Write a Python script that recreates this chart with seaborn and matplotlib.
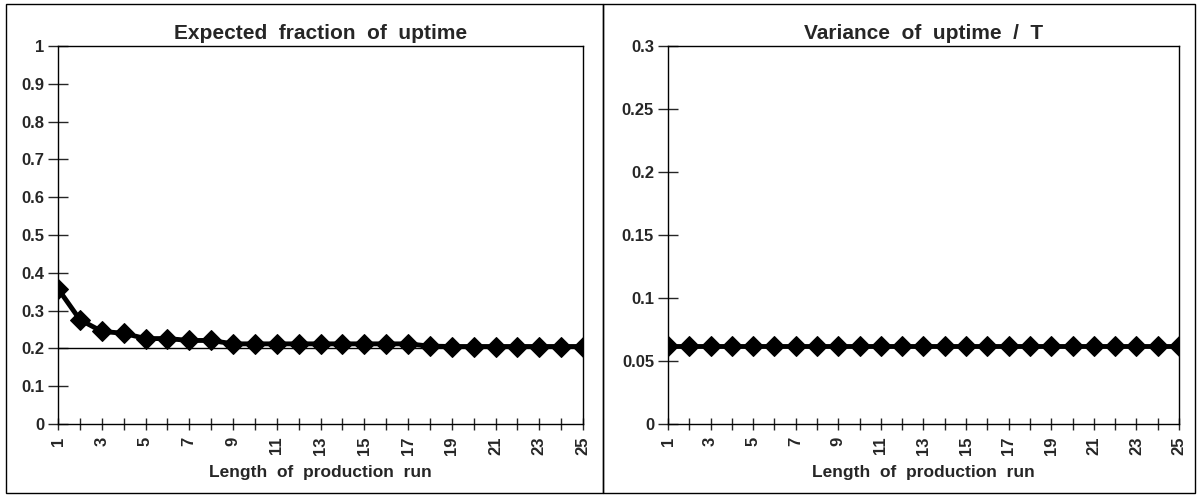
import numpy as np
import pandas as pd
import matplotlib
matplotlib.use("Agg")
import matplotlib.pyplot as plt
from matplotlib.patches import Rectangle
import seaborn as sns

# Run lengths 1..25
run_length = list(range(1, 26))

# Expected fraction of uptime for each run length
expected_uptime = [0.358, 0.276, 0.245, 0.240, 0.226, 0.226, 0.221, 0.221, 0.212,
                   0.212, 0.212, 0.212, 0.212, 0.212, 0.212, 0.212, 0.212, 0.206,
                   0.205, 0.205, 0.205, 0.205, 0.205, 0.205, 0.205]

# Variance of uptime divided by T
variance_uptime = [0.062] * 25

# Long-run limit of the expected fraction
uptime_limit = 0.2

left_yticks = [0, 0.1, 0.2, 0.3, 0.4, 0.5, 0.6, 0.7, 0.8, 0.9, 1]
left_yticklabels = ["0", "0.1", "0.2", "0.3", "0.4", "0.5", "0.6", "0.7", "0.8", "0.9", "1"]
right_yticks = [0, 0.05, 0.1, 0.15, 0.2, 0.25, 0.3]
right_yticklabels = ["0", "0.05", "0.1", "0.15", "0.2", "0.25", "0.3"]

sns.set_theme(style="white")
plt.rcParams["font.family"] = ["Liberation Sans", "DejaVu Sans"]
plt.rcParams["font.weight"] = "bold"

W, H = 1197, 495
fig = plt.figure(figsize=(W / 100, H / 100), dpi=100)
fig.patch.set_facecolor("white")

# Outer frames around each panel
for x0, x1 in [(6, 603), (603, 1195)]:
    fig.patches.append(Rectangle((x0 / W, 1 - 493 / H), (x1 - x0) / W, (493 - 4) / H,
                                 transform=fig.transFigure, fill=False,
                                 edgecolor="black", linewidth=1.0))

ax1 = fig.add_axes([58 / W, 1 - 424 / H, (583 - 58) / W, (424 - 46) / H])
ax2 = fig.add_axes([668 / W, 1 - 424 / H, (1179 - 668) / W, (424 - 46) / H])

df = pd.DataFrame({"run": run_length, "expected": expected_uptime,
                   "variance": variance_uptime})

ax1.axhline(uptime_limit, color="black", linewidth=1.0, zorder=1)
sns.lineplot(data=df, x="run", y="expected", ax=ax1, color="black", linewidth=3.5,
             marker="D", markersize=10, markeredgecolor="black", zorder=3)
sns.lineplot(data=df, x="run", y="variance", ax=ax2, color="black", linewidth=3.5,
             marker="D", markersize=10, markeredgecolor="black", zorder=3)

panels = [
    (ax1, "Expected  fraction  of  uptime", left_yticks, left_yticklabels, (0, 1)),
    (ax2, "Variance  of  uptime  /  T", right_yticks, right_yticklabels, (0, 0.3)),
]
for ax, title, yt, ytl, ylim in panels:
    ax.set_xlim(1, 25)
    ax.set_ylim(*ylim)
    ax.set_yticks(yt)
    ax.set_yticklabels(ytl, fontsize=12, fontweight="bold")
    ax.set_xticks(run_length)
    ax.set_xticklabels([str(r) if r % 2 == 1 else "" for r in run_length],
                       rotation=90, fontsize=12, fontweight="bold")
    ax.tick_params(axis="y", direction="inout", length=14, width=1, pad=3, left=True)
    ax.tick_params(axis="x", direction="inout", length=8, width=1, pad=5, bottom=True)
    for s in ax.spines.values():
        s.set_color("black")
        s.set_linewidth(1.0)
    ax.set_title(title, fontsize=15, fontweight="bold", pad=5)
    ax.set_xlabel("Length  of  production  run", fontsize=12.5, fontweight="bold", labelpad=7)
    ax.set_ylabel("")
    ax.grid(False)

fig.savefig("out.png", dpi=100, facecolor="white")
